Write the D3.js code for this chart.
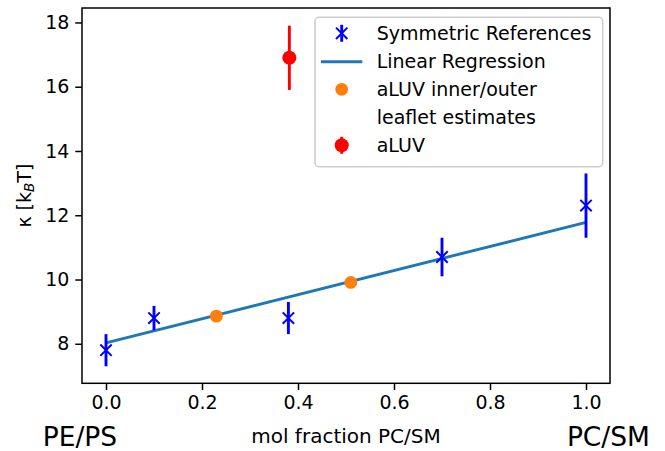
<!DOCTYPE html>
<meta charset="utf-8">
<script src="https://d3js.org/d3.v7.min.js"></script>
<style>
  body { margin: 0; background: #fff; }
  text { font-family: "DejaVu Sans", sans-serif; fill: #000; }
</style>
<body>
<div id="chart"></div>
<script>

// symmetric reference membranes
var refX = [0.0, 0.1, 0.38, 0.7, 1.0];
var refY = [7.8, 8.8, 8.8, 10.7, 12.3];
var refErr = [0.5, 0.38, 0.5, 0.6, 1.0];

// linear regression through the references
var regX = [0.0, 1.0];
var regY = [8.03, 11.78];

// aLUV inner/outer leaflet estimates
var leafX = [0.23, 0.51];
var leafY = [8.86, 9.91];

// aLUV
var aluvX = [0.382];
var aluvY = [16.9];
var aluvErr = [1.0];

var xTicks = [0.0, 0.2, 0.4, 0.6, 0.8, 1.0];
var yTicks = [8, 10, 12, 14, 16, 18];
var legendLabels = ["Symmetric References", "Linear Regression", "aLUV inner/outer", "leaflet estimates", "aLUV"];

var W = 665, H = 451;
var margin = {top: 8, right: 55, bottom: 68, left: 82};

var svg = d3.select("#chart").append("svg")
    .attr("width", W)
    .attr("height", H);

var x = d3.scaleLinear().domain([-0.05, 1.05]).range([margin.left, W - margin.right]);
var y = d3.scaleLinear().domain([6.77, 18.45]).range([H - margin.bottom + 0.3, margin.top]);

// axes
var xAxis = svg.append("g")
    .attr("transform", "translate(0," + y.range()[0] + ")")
    .call(d3.axisBottom(x).tickValues(xTicks).tickFormat(d3.format(".1f")).tickSize(6.7).tickPadding(6));
var yAxis = svg.append("g")
    .attr("transform", "translate(" + margin.left + ",0)")
    .call(d3.axisLeft(y).tickValues(yTicks).tickFormat(d3.format("d")).tickSize(6.7).tickPadding(6));

[xAxis, yAxis].forEach(function(g) {
    g.select(".domain").remove();
    g.selectAll(".tick line").attr("stroke", "#000").attr("stroke-width", 1.5);
    g.selectAll(".tick text").attr("font-size", 19).attr("font-family", "DejaVu Sans").attr("fill", "#000");
});

// regression line
var line = d3.line().x(function(d) { return x(d[0]); }).y(function(d) { return y(d[1]); });
svg.append("path")
    .datum(regX.map(function(v, i) { return [v, regY[i]]; }))
    .attr("d", line)
    .attr("fill", "none")
    .attr("stroke", "#1f77b4")
    .attr("stroke-width", 2.9);

// symmetric references: error bars + x markers
var refs = svg.append("g");
refX.forEach(function(v, i) {
    var cx = x(v), cy = y(refY[i]);
    refs.append("line")
        .attr("x1", cx).attr("x2", cx)
        .attr("y1", y(refY[i] - refErr[i])).attr("y2", y(refY[i] + refErr[i]))
        .attr("stroke", "#0000ff").attr("stroke-width", 2.9);
    refs.append("path")
        .attr("d", "M" + (cx - 5.7) + "," + (cy - 5.7) + "L" + (cx + 5.7) + "," + (cy + 5.7) +
                   "M" + (cx - 5.7) + "," + (cy + 5.7) + "L" + (cx + 5.7) + "," + (cy - 5.7))
        .attr("stroke", "#0000ff").attr("stroke-width", 2);
});

// leaflet estimates
svg.append("g").selectAll("circle")
    .data(leafX)
    .enter().append("circle")
    .attr("cx", function(d) { return x(d); })
    .attr("cy", function(d, i) { return y(leafY[i]); })
    .attr("r", 6.4)
    .attr("fill", "#ff7f0e");

// aLUV
aluvX.forEach(function(v, i) {
    svg.append("line")
        .attr("x1", x(v)).attr("x2", x(v))
        .attr("y1", y(aluvY[i] - aluvErr[i])).attr("y2", y(aluvY[i] + aluvErr[i]))
        .attr("stroke", "#ff0000").attr("stroke-width", 2.9);
    svg.append("circle")
        .attr("cx", x(v)).attr("cy", y(aluvY[i]))
        .attr("r", 7)
        .attr("fill", "#ff0000");
});

// frame
svg.append("rect")
    .attr("x", x.range()[0]).attr("y", y.range()[1])
    .attr("width", x.range()[1] - x.range()[0])
    .attr("height", y.range()[0] - y.range()[1])
    .attr("fill", "none")
    .attr("stroke", "#000")
    .attr("stroke-width", 1.5);

// legend
var lg = svg.append("g").attr("transform", "translate(315,17.3)");
lg.append("rect")
    .attr("width", 287.7).attr("height", 149.4)
    .attr("rx", 4)
    .attr("fill", "#fff").attr("fill-opacity", 0.8)
    .attr("stroke", "#cccccc").attr("stroke-width", 1.5);

var rowY = [16, 44.4, 72, 100, 128];
var symX = 26.7;
legendLabels.forEach(function(t, i) {
    lg.append("text")
        .attr("x", 61.7).attr("y", rowY[i])
        .attr("dy", "0.35em")
        .attr("font-size", 19)
        .text(t);
});
// symmetric references symbol
lg.append("line")
    .attr("x1", symX).attr("x2", symX).attr("y1", rowY[0] - 8.5).attr("y2", rowY[0] + 8.5)
    .attr("stroke", "#0000ff").attr("stroke-width", 2.9);
lg.append("path")
    .attr("d", "M" + (symX - 5.7) + "," + (rowY[0] - 5.7) + "L" + (symX + 5.7) + "," + (rowY[0] + 5.7) +
               "M" + (symX - 5.7) + "," + (rowY[0] + 5.7) + "L" + (symX + 5.7) + "," + (rowY[0] - 5.7))
    .attr("stroke", "#0000ff").attr("stroke-width", 2);
// regression symbol
lg.append("line")
    .attr("x1", 6).attr("x2", 47.3).attr("y1", rowY[1]).attr("y2", rowY[1])
    .attr("stroke", "#1f77b4").attr("stroke-width", 2.9);
// leaflet symbol
lg.append("circle").attr("cx", symX).attr("cy", rowY[2]).attr("r", 6.4).attr("fill", "#ff7f0e");
// aLUV symbol
lg.append("line")
    .attr("x1", symX).attr("x2", symX).attr("y1", rowY[4] - 8.5).attr("y2", rowY[4] + 8.5)
    .attr("stroke", "#ff0000").attr("stroke-width", 2.9);
lg.append("circle").attr("cx", symX).attr("cy", rowY[4]).attr("r", 7).attr("fill", "#ff0000");

// axis labels
svg.append("text")
    .attr("x", (x.range()[0] + x.range()[1]) / 2)
    .attr("y", 443)
    .attr("text-anchor", "middle")
    .attr("font-size", 20)
    .text("mol fraction PC/SM");

var yl = svg.append("text")
    .attr("transform", "translate(31," + ((y.range()[0] + y.range()[1]) / 2) + ")rotate(-90)")
    .attr("text-anchor", "middle")
    .attr("font-size", 19);
yl.append("tspan").text("κ [k");
yl.append("tspan").attr("font-size", 13.5).attr("font-style", "italic").attr("dy", 3).text("B");
yl.append("tspan").attr("dy", -3).text("T]");

// composition end labels
svg.append("text")
    .attr("x", 42.7).attr("y", 446)
    .attr("font-size", 26.5)
    .text("PE/PS");
svg.append("text")
    .attr("x", 650).attr("y", 446)
    .attr("text-anchor", "end")
    .attr("font-size", 26.5)
    .text("PC/SM");

</script>
</body>
